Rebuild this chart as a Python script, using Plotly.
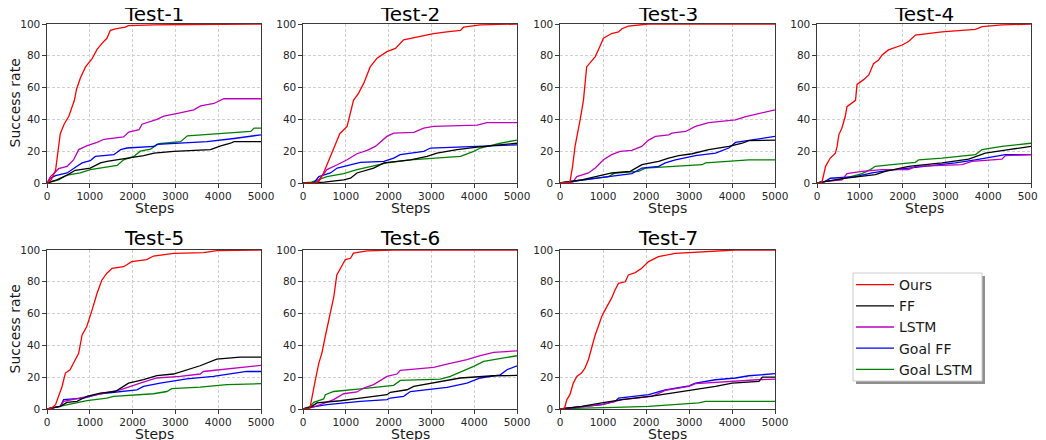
import plotly.graph_objects as go

# browser window size and the page's default body margin
WIN_W, WIN_H, OFF = 1046, 440, 8
W, H = WIN_W - OFF, WIN_H - OFF

series_names = ["Ours", "FF", "LSTM", "Goal FF", "Goal LSTM"]
series_colors = ["#ff0000", "#000000", "#bf00bf", "#0000ff", "#008000"]
test_titles = ["Test-1", "Test-2", "Test-3", "Test-4", "Test-5", "Test-6", "Test-7"]
x_ticks = [0, 1000, 2000, 3000, 4000, 5000]
y_ticks = [0, 20, 40, 60, 80, 100]

# ---------------- Test-1 ----------------
t1_ours_x = [0, 100, 200, 310, 400, 510, 640, 690, 780, 900, 1050, 1170, 1290, 1400, 1480, 1600, 1830, 1900, 2500, 5000]
t1_ours_y = [0, 2, 8, 31, 37, 42, 52, 59, 66, 73, 78, 84, 88, 91, 96, 97, 98, 99, 99.5, 100]
t1_ff_x = [0, 230, 470, 660, 1010, 1250, 1400, 1870, 2260, 2500, 2960, 3820, 4060, 4290, 4370, 5000]
t1_ff_y = [0, 2, 5, 8, 9.4, 12.6, 13.6, 15.7, 17.2, 18.8, 19.9, 21, 23.4, 25, 26, 26]
t1_lstm_x = [0, 80, 160, 270, 470, 620, 740, 940, 1170, 1330, 1790, 1910, 2150, 2220, 2570, 2730, 3080, 3430, 3590, 3900, 4130, 5000]
t1_lstm_y = [0, 4, 6, 9, 10.5, 14.5, 21, 23.5, 25.5, 27.5, 29, 32, 33.5, 37, 40, 42, 44, 46, 48.5, 50, 53, 53]
t1_gff_x = [0, 80, 200, 470, 700, 820, 1010, 1130, 1560, 1720, 1870, 2500, 2570, 3740, 4370, 5000]
t1_gff_y = [0, 3, 4.6, 6.3, 10.5, 12.6, 14, 16.7, 17.8, 21, 22, 23, 24.3, 26, 28, 30.3]
t1_glstm_x = [0, 270, 470, 780, 1010, 1640, 1790, 2030, 2180, 2420, 2610, 3120, 3280, 3590, 4210, 4760, 4840, 5000]
t1_glstm_y = [0, 2, 5, 6.3, 8.4, 11, 14.6, 16.7, 20, 21.3, 24.7, 26, 29.7, 30.3, 31.4, 32.4, 34.5, 34.5]

# ---------------- Test-2 ----------------
t2_ours_x = [0, 300, 370, 480, 640, 860, 1030, 1110, 1180, 1300, 1420, 1570, 1730, 1960, 2160, 2350, 2740, 3050, 3360, 3680, 3750, 4140, 5000]
t2_ours_y = [0, 0, 1, 6.3, 16.7, 31, 35.6, 44, 52, 56.5, 62.8, 73, 78.5, 82.6, 84.7, 90, 92, 94, 95, 96, 98, 99.4, 100]
t2_ff_x = [0, 500, 950, 1110, 1260, 1650, 1890, 2510, 2900, 3130, 3600, 4070, 5000]
t2_ff_y = [0, 0.5, 2, 3, 6.3, 9.4, 12.6, 14.6, 16.7, 18.8, 21, 22.6, 25]
t2_lstm_x = [0, 300, 370, 560, 800, 1030, 1260, 1500, 1690, 1810, 1960, 2120, 2590, 2820, 3050, 4070, 4300, 5000]
t2_lstm_y = [0, 0, 2, 8.4, 11.5, 14.6, 18.4, 20.5, 23, 26, 29.3, 31.4, 31.8, 34.5, 35.6, 36.4, 38, 38]
t2_gff_x = [0, 250, 370, 640, 800, 1030, 1340, 1890, 2120, 2270, 2820, 2980, 4070, 5000]
t2_gff_y = [0, 0, 4, 6.3, 9.4, 11, 13, 13.6, 15.7, 17.8, 19.9, 22, 23, 24]
t2_glstm_x = [0, 200, 560, 950, 1260, 1500, 1960, 2510, 3680, 3990, 4140, 4610, 5000]
t2_glstm_y = [0, 0.5, 4, 5.9, 8.4, 10, 12.6, 14.6, 16.7, 19.9, 22, 25, 27]

# ---------------- Test-3 ----------------
t3_ours_x = [0, 230, 290, 350, 470, 545, 620, 820, 930, 1010, 1200, 1360, 1440, 1590, 2060, 5000]
t3_ours_y = [0, 0.5, 10, 23, 40, 52, 73, 79.5, 86, 91, 94, 95, 97, 98.7, 100, 100]
t3_ff_x = [0, 505, 1205, 1633, 1905, 2294, 2527, 2760, 3072, 3460, 3927, 4238, 4393, 5000]
t3_ff_y = [0, 2, 6.3, 7.3, 11.5, 13.6, 15.7, 17.2, 18.4, 21, 23, 25, 26.6, 27]
t3_lstm_x = [0, 300, 390, 660, 820, 1010, 1200, 1400, 1670, 1900, 2060, 2220, 2530, 2600, 2920, 3150, 3460, 4080, 4320, 4700, 5000]
t3_lstm_y = [0, 0.5, 4, 6.3, 9.4, 14.6, 17.8, 19.9, 20.5, 23, 27, 29.3, 30.3, 31.4, 32.4, 35.6, 38, 39.7, 41.8, 44, 46]
t3_gff_x = [0, 505, 1127, 1672, 1905, 2294, 2449, 2683, 3150, 3616, 3927, 4082, 4549, 5000]
t3_gff_y = [0, 2, 4, 5.9, 9.4, 10.5, 12.6, 14.6, 17.2, 18.8, 22, 25.5, 27.2, 29.3]
t3_glstm_x = [0, 505, 1127, 1283, 1827, 1983, 2683, 3305, 3383, 4005, 4393, 5000]
t3_glstm_y = [0, 2, 4, 6.3, 7.3, 9.4, 10.5, 11.5, 12.6, 13.6, 14.6, 14.6]

# ---------------- Test-4 ----------------
t4_ours_x = [0, 100, 120, 200, 310, 430, 470, 510, 580, 660, 700, 900, 935, 1090, 1210, 1320, 1440, 1520, 1670, 1990, 2140, 2300, 2920, 3700, 3860, 4320, 5000]
t4_ours_y = [0, 0, 1, 10.5, 15.7, 18.8, 23, 30.3, 34.5, 41.8, 48, 52, 62, 65, 68, 75, 77.4, 80.5, 83.7, 86.8, 89, 93, 95, 96.6, 98.3, 99.4, 100]
t4_ff_x = [0, 195, 584, 1363, 1597, 2142, 2921, 3544, 3933, 4478, 5000]
t4_ff_y = [0, 1, 2.7, 5.2, 7.3, 10.5, 12.6, 15, 18.8, 21, 23]
t4_lstm_x = [0, 195, 584, 701, 1051, 1519, 2142, 2298, 3388, 3622, 4322, 4400, 5000]
t4_lstm_y = [0, 1, 2, 5.9, 7.3, 8.4, 8.4, 10.5, 11.5, 13.6, 15, 17.2, 17.8]
t4_gff_x = [0, 195, 311, 896, 1285, 1674, 2142, 2531, 3232, 3700, 4166, 4400, 5000]
t4_gff_y = [0, 1, 3, 4, 6.3, 8, 9.4, 10.5, 12.6, 14.6, 16.7, 17.8, 17.8]
t4_glstm_x = [0, 195, 506, 896, 1051, 1246, 1363, 1752, 2298, 2376, 2921, 3700, 3855, 4322, 5000]
t4_glstm_y = [0, 1, 2, 4.8, 5.9, 8.4, 10.5, 11.5, 13, 14.6, 15.7, 17.8, 21, 23, 25]

# ---------------- Test-5 ----------------
t5_ours_x = [0, 100, 200, 270, 350, 430, 540, 620, 740, 820, 930, 1050, 1170, 1280, 1400, 1520, 1790, 1980, 2330, 2490, 2960, 3660, 3970, 5000]
t5_ours_y = [0, 0.5, 2.7, 8, 14, 22.6, 24.7, 28.9, 35, 46.6, 51.9, 62, 72.8, 81, 85.4, 88.5, 89.5, 92.7, 94, 96.2, 97.9, 98.3, 99.6, 100]
t5_ff_x = [0, 311, 467, 700, 933, 1244, 1594, 1711, 1905, 2255, 2566, 2955, 3266, 3577, 3966, 4510, 5000]
t5_ff_y = [0, 1.7, 4.2, 4.8, 8, 10, 11, 13, 16.3, 18.4, 21, 22, 24.7, 27.2, 31.4, 32.6, 32.6]
t5_lstm_x = [0, 311, 389, 778, 1244, 1711, 2177, 2566, 3110, 3577, 3655, 4355, 4821, 5000]
t5_lstm_y = [0, 1.7, 4.8, 6.9, 9.6, 12, 16.3, 19.5, 20.5, 22, 23.6, 25.7, 26.8, 27.4]
t5_gff_x = [0, 311, 389, 855, 1166, 1244, 2100, 2255, 2644, 3110, 3266, 3888, 4355, 4666, 5000]
t5_gff_y = [0, 1.7, 5.9, 6.9, 9, 9.6, 12, 14.2, 16.3, 18.4, 19, 20.5, 22.6, 23.6, 23.6]
t5_glstm_x = [0, 311, 933, 1400, 1555, 2489, 2800, 2916, 3577, 4200, 5000]
t5_glstm_y = [0, 1.7, 5.2, 6.9, 8, 9.6, 11, 12.8, 13.8, 15.3, 15.9]

# ---------------- Test-6 ----------------
t6_ours_x = [0, 150, 170, 210, 290, 370, 440, 520, 640, 720, 790, 950, 990, 1110, 1180, 1500, 2120, 5000]
t6_ours_y = [0, 0, 1.7, 8, 18.4, 28.9, 35, 45.6, 62, 70.7, 84.3, 91.6, 94, 94.8, 98, 99.4, 100, 100]
t6_ff_x = [0, 171, 327, 872, 1340, 1963, 2040, 2430, 2586, 3053, 3676, 4455, 5000]
t6_ff_y = [0, 1, 3.8, 5.2, 6.9, 9, 10.5, 12.1, 14.2, 16.3, 19.5, 20.9, 21.1]
t6_lstm_x = [0, 249, 405, 716, 950, 1262, 1417, 1651, 1963, 2196, 2274, 3053, 3364, 3831, 4143, 4455, 5000]
t6_lstm_y = [0, 1.3, 2.7, 5.9, 9.6, 10.7, 13.2, 15.3, 20.5, 22, 24.3, 26.2, 28.2, 31, 33.5, 35.6, 36.6]
t6_gff_x = [0, 171, 561, 1340, 1963, 2040, 2352, 2508, 3364, 3831, 4143, 4610, 4766, 5000]
t6_gff_y = [0, 1, 2.7, 4.8, 5.9, 6.9, 8, 11, 13.6, 16.3, 19.5, 21.5, 24.7, 27.2]
t6_glstm_x = [0, 171, 249, 483, 521, 716, 1340, 2118, 2274, 3209, 3442, 3676, 3988, 4221, 5000]
t6_glstm_y = [0, 1.7, 4.2, 6.3, 9, 11, 12.6, 14.9, 18, 18.8, 20.5, 23, 26.8, 29.9, 33.5]

# ---------------- Test-7 ----------------
t7_ours_x = [0, 100, 160, 230, 310, 390, 500, 580, 660, 740, 820, 890, 970, 1090, 1200, 1280, 1360, 1520, 1590, 1750, 1900, 2060, 2290, 2680, 3620, 4080, 5000]
t7_ours_y = [0, 0, 5.9, 9, 16.3, 20.5, 22.6, 25.7, 31, 39.3, 46.7, 51.9, 58.2, 64.4, 69.7, 74.9, 79, 80, 84.3, 85.8, 88.5, 92.7, 95.8, 97.9, 99, 100, 100]
t7_ff_x = [0, 505, 972, 1439, 2216, 2839, 3616, 4005, 4627, 4705, 5000]
t7_ff_y = [0, 1.7, 3.8, 5.9, 8.4, 11, 14.2, 16.3, 17.4, 20, 20]
t7_lstm_x = [0, 505, 972, 1439, 2139, 2449, 3000, 3150, 3900, 4600, 5000]
t7_lstm_y = [0, 1.3, 2.7, 5.9, 8, 11.7, 14.2, 15.9, 17.4, 18.4, 18.8]
t7_gff_x = [0, 505, 972, 1283, 1361, 2061, 2449, 3000, 3150, 3616, 4082, 4393, 5000]
t7_gff_y = [0, 1.3, 2.7, 4.8, 6.9, 9, 12.1, 14.6, 16.3, 18.4, 19.5, 20.9, 22.2]
t7_glstm_x = [0, 505, 1283, 2061, 3227, 3383, 5000]
t7_glstm_y = [0, 0.6, 1, 1.7, 3.8, 4.8, 4.8]

tests = [
    [(t1_ours_x, t1_ours_y), (t1_ff_x, t1_ff_y), (t1_lstm_x, t1_lstm_y), (t1_gff_x, t1_gff_y), (t1_glstm_x, t1_glstm_y)],
    [(t2_ours_x, t2_ours_y), (t2_ff_x, t2_ff_y), (t2_lstm_x, t2_lstm_y), (t2_gff_x, t2_gff_y), (t2_glstm_x, t2_glstm_y)],
    [(t3_ours_x, t3_ours_y), (t3_ff_x, t3_ff_y), (t3_lstm_x, t3_lstm_y), (t3_gff_x, t3_gff_y), (t3_glstm_x, t3_glstm_y)],
    [(t4_ours_x, t4_ours_y), (t4_ff_x, t4_ff_y), (t4_lstm_x, t4_lstm_y), (t4_gff_x, t4_gff_y), (t4_glstm_x, t4_glstm_y)],
    [(t5_ours_x, t5_ours_y), (t5_ff_x, t5_ff_y), (t5_lstm_x, t5_lstm_y), (t5_gff_x, t5_gff_y), (t5_glstm_x, t5_glstm_y)],
    [(t6_ours_x, t6_ours_y), (t6_ff_x, t6_ff_y), (t6_lstm_x, t6_lstm_y), (t6_gff_x, t6_gff_y), (t6_glstm_x, t6_glstm_y)],
    [(t7_ours_x, t7_ours_y), (t7_ff_x, t7_ff_y), (t7_lstm_x, t7_lstm_y), (t7_gff_x, t7_gff_y), (t7_glstm_x, t7_glstm_y)],
]

# panel geometry in window pixels
col_px = [(47, 261), (303, 517), (560, 775), (817, 1031)]
row_px = [(24, 183), (250, 409)]
title_shift = [4, 2]   # row 1 nudged down so it is not clipped at the page top


def px(x):
    return (x - OFF) / W


def py(y):
    return 1 - (y - OFF) / H


FONT = "DejaVu Sans"
fig = go.Figure()
layout = dict(
    width=W, height=H, margin=dict(l=0, r=0, t=0, b=0, autoexpand=False),
    paper_bgcolor="white", plot_bgcolor="white",
    font=dict(family=FONT, color="#262626"),
    annotations=[], shapes=[],
)


def ann(text, x, y, size, xanchor="center", yanchor="middle", angle=0, color="#1a1a1a"):
    return dict(text=text, x=px(x), y=py(y), xref="paper", yref="paper",
                xanchor=xanchor, yanchor=yanchor, showarrow=False, textangle=angle,
                font=dict(size=size, family=FONT, color=color))


for i, data in enumerate(tests):
    r, c = divmod(i, 4)
    ax = i + 1
    xa = "xaxis" if ax == 1 else f"xaxis{ax}"
    ya = "yaxis" if ax == 1 else f"yaxis{ax}"
    xref = "x" if ax == 1 else f"x{ax}"
    yref = "y" if ax == 1 else f"y{ax}"
    x0, x1 = col_px[c]
    y0, y1 = row_px[r]
    common = dict(
        showline=True, mirror=True, linecolor="#3a3a3a", linewidth=1.2,
        ticks="outside", ticklen=3.5, tickwidth=1, tickcolor="#3a3a3a",
        showgrid=True, gridcolor="#d0d0d0", griddash="3px,2px", gridwidth=0.8,
        zeroline=False, automargin=False,
        tickfont=dict(size=10.5, family=FONT, color="#262626"),
    )
    layout[xa] = dict(
        common, domain=[px(x0), px(x1)], anchor=yref, range=[0, 5000],
        tickvals=x_ticks, ticktext=[str(v) for v in x_ticks],
    )
    layout[ya] = dict(
        common, domain=[py(y1), py(y0)], anchor=xref, range=[0, 100],
        tickvals=y_ticks, ticktext=[str(v) for v in y_ticks],
    )
    layout["annotations"].append(ann(test_titles[i], (x0 + x1) / 2, y0 + title_shift[r], 20,
                                     yanchor="bottom", color="#000000"))
    layout["annotations"].append(ann("Steps", (x0 + x1) / 2, y1 + 14.5, 14, yanchor="top"))
    if c == 0:
        layout["annotations"].append(ann("Success rate", 14, (y0 + y1) / 2, 14, angle=-90))
    # draw in reverse so Ours is on top
    for k in reversed(range(5)):
        xs, ys = data[k]
        fig.add_trace(go.Scatter(
            x=xs, y=ys, mode="lines", name=series_names[k],
            line=dict(color=series_colors[k], width=1.3),
            xaxis=xref, yaxis=yref, showlegend=(i == 0),
            legendrank=k + 1,
        ))

# legend frame with shadow (drawn as shapes), entries from plotly legend
lx0, lx1, ly0, ly1 = 853, 982, 273, 381
layout["shapes"].append(dict(
    type="rect", xref="paper", yref="paper",
    x0=px(lx0 + 3), x1=px(lx1 + 3), y0=py(ly1 + 3), y1=py(ly0 + 3),
    fillcolor="#8f8f8f", line=dict(width=0), layer="below",
))
layout["shapes"].append(dict(
    type="rect", xref="paper", yref="paper",
    x0=px(lx0), x1=px(lx1), y0=py(ly1), y1=py(ly0),
    fillcolor="white", line=dict(width=1, color="#cccccc"), layer="below",
))
layout["legend"] = dict(
    x=px(851), y=py(269), xanchor="left", yanchor="top",
    bgcolor="rgba(0,0,0,0)", borderwidth=0,
    font=dict(size=14, family=FONT, color="#1a1a1a"),
    traceorder="normal", itemwidth=38, tracegroupgap=0,
)
fig.update_layout(**layout)
fig.write_html("out.html")
